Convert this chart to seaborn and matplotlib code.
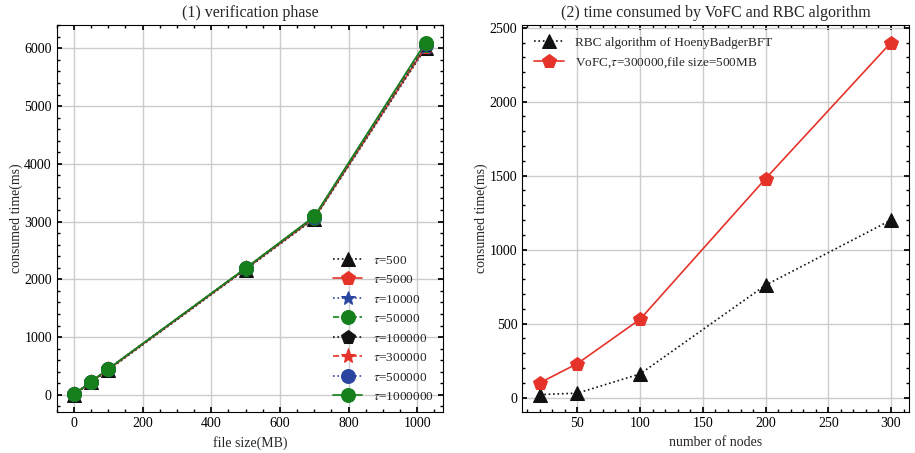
import matplotlib
matplotlib.use("Agg")
import matplotlib.pyplot as plt
import seaborn as sns
from matplotlib.ticker import AutoMinorLocator

# =========================
# DATA
# =========================
file_sizes = [1, 50, 100, 500, 700, 1024]
tau_labels = [r"$\tau$=500", r"$\tau$=5000", r"$\tau$=10000", r"$\tau$=50000",
              r"$\tau$=100000", r"$\tau$=300000", r"$\tau$=500000", r"$\tau$=1000000"]
t500 = [5, 215, 430, 2170, 3050, 6000]
t5000 = [8, 220, 440, 2180, 3060, 6020]
t10000 = [8, 220, 440, 2180, 3060, 6030]
t50000 = [10, 225, 445, 2185, 3070, 6050]
t100000 = [10, 225, 445, 2185, 3075, 6060]
t300000 = [12, 228, 448, 2190, 3080, 6070]
t500000 = [12, 230, 450, 2190, 3085, 6080]
t1000000 = [15, 232, 452, 2195, 3090, 6100]
verify_times = [t500, t5000, t10000, t50000, t100000, t300000, t500000, t1000000]

nodes = [20, 50, 100, 200, 300]
rbc_times = [20, 30, 160, 760, 1200]
vofc_times = [100, 230, 530, 1480, 2400]

# =========================
# STYLE
# =========================
sns.set_theme(style="ticks")
plt.rcParams["font.family"] = ["Liberation Serif", "DejaVu Serif"]
plt.rcParams["mathtext.fontset"] = "stix"
plt.rcParams["font.size"] = 10
plt.rcParams["axes.labelsize"] = 10
plt.rcParams["legend.fontsize"] = 9.5
plt.rcParams["xtick.direction"] = "in"
plt.rcParams["ytick.direction"] = "in"
plt.rcParams["xtick.top"] = True
plt.rcParams["ytick.right"] = True
plt.rcParams["xtick.major.size"] = 3.5
plt.rcParams["ytick.major.size"] = 3.5
plt.rcParams["xtick.minor.size"] = 2
plt.rcParams["ytick.minor.size"] = 2
plt.rcParams["xtick.minor.visible"] = True
plt.rcParams["ytick.minor.visible"] = True
plt.rcParams["axes.linewidth"] = 0.8

K = "#111111"
R = "#e5332a"
B = "#2a45a0"
G = "#15801c"
colors = [K, R, B, G, K, R, B, G]
markers = ["^", "p", "*", "o", "p", "*", "o", "o"]
lstyles = [":", "-", ":", "--", ":", "--", ":", "-"]
msizes = [10, 10, 10, 10, 10, 11, 10, 10]

fig, (ax1, ax2) = plt.subplots(1, 2, figsize=(9.15, 4.53), dpi=100)
fig.subplots_adjust(left=0.062, right=0.993, bottom=0.09, top=0.945, wspace=0.205)

# =========================
# (1) VERIFICATION PHASE
# =========================
for ys, lab, c, m, ls, ms in zip(verify_times, tau_labels, colors, markers, lstyles, msizes):
    sns.lineplot(x=file_sizes, y=ys, ax=ax1, color=c, marker=m, linestyle=ls,
                 markersize=ms, markeredgecolor=c, linewidth=1.2, label=lab)
ax1.set_title("(1) verification phase", fontsize=11.5)
ax1.set_xlabel("file size(MB)")
ax1.set_ylabel("consumed time(ms)", labelpad=1)
ax1.legend(loc="lower right", frameon=False, handlelength=2.2, labelspacing=0.55,
           borderaxespad=0.3)

# =========================
# (2) VOFC VS RBC
# =========================
sns.lineplot(x=nodes, y=rbc_times, ax=ax2, color=K, marker="^", linestyle=":",
             markersize=10, markeredgecolor=K, linewidth=1.2,
             label="RBC algorithm of HoenyBadgerBFT")
sns.lineplot(x=nodes, y=vofc_times, ax=ax2, color=R, marker="p", linestyle="-",
             markersize=10, markeredgecolor=R, linewidth=1.2,
             label=r"VoFC,$\tau$=300000,file size=500MB")
ax2.set_title("(2) time consumed by VoFC and RBC algorithm", fontsize=11.5)
ax2.set_xlabel("number of nodes")
ax2.set_ylabel("consumed time(ms)", labelpad=1)
ax2.legend(loc="upper left", frameon=False, handlelength=2.3, labelspacing=0.5)

for ax in (ax1, ax2):
    ax.grid(True, color="#cccccc", linewidth=1.0)
    ax.xaxis.set_minor_locator(AutoMinorLocator())
    ax.yaxis.set_minor_locator(AutoMinorLocator())
    ax.tick_params(which="both", colors="black", labelsize=10)
    for s in ax.spines.values():
        s.set_color("black")

plt.savefig("out.png", dpi=100)
